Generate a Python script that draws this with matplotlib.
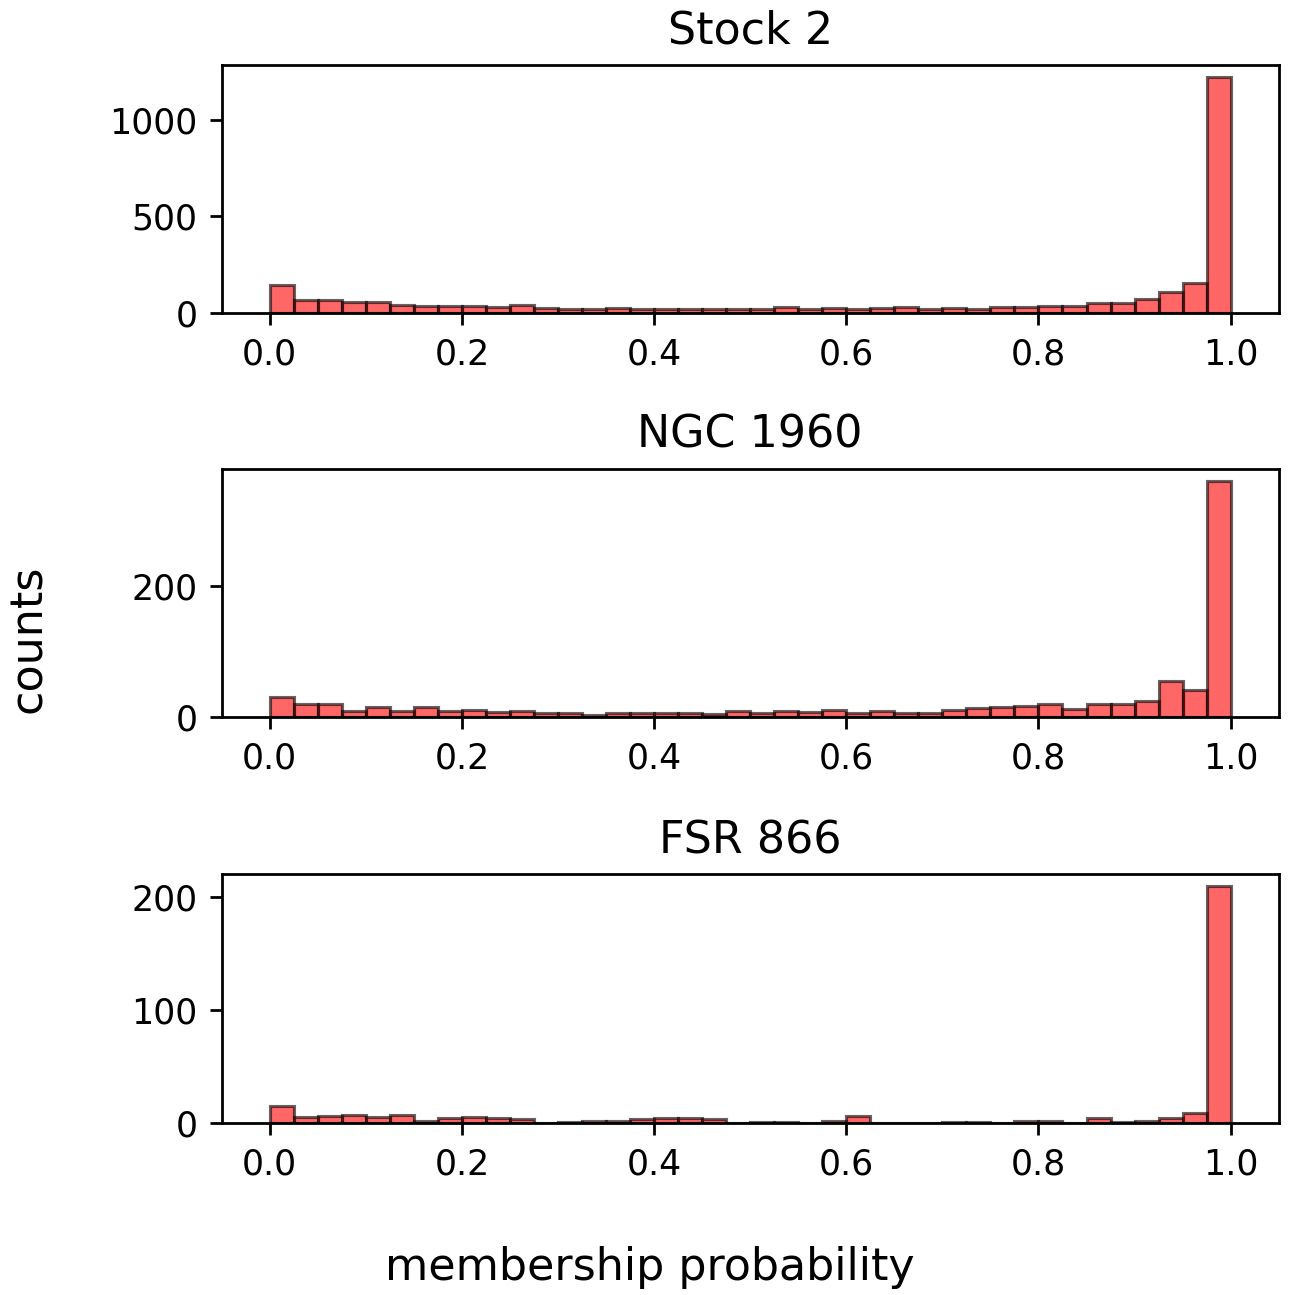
import numpy as np
import matplotlib
matplotlib.use("Agg")
import matplotlib.pyplot as plt

# 40 bins of width 0.025 on [0, 1]
bin_edges = np.linspace(0.0, 1.0, 41)

titles = ["Stock 2", "NGC 1960", "FSR 866"]

stock2_counts = [146, 69, 67, 60, 60, 45, 40, 40, 40, 34,
                 41, 29, 24, 24, 29, 21, 24, 24, 24, 24,
                 24, 31, 22, 27, 22, 29, 34, 22, 29, 22,
                 33, 33, 40, 36, 55, 55, 76, 108, 158, 1222]

ngc1960_counts = [31, 20, 20, 9, 16, 9, 16, 9, 12, 8,
                  9, 6, 6, 4, 6, 7, 6, 6, 5, 9,
                  6, 10, 8, 11, 7, 10, 7, 6, 12, 14,
                  16, 18, 21, 13, 20, 20, 25, 55, 42, 359]

fsr866_counts = [15, 5, 6, 7, 5, 7, 2, 4, 5, 4,
                 3, 0, 1, 2, 2, 3, 4, 4, 3, 0,
                 1, 1, 0, 2, 6, 0, 0, 0, 1, 1,
                 0, 2, 2, 0, 4, 1, 2, 4, 9, 210]

all_counts = [stock2_counts, ngc1960_counts, fsr866_counts]

fig = plt.figure(figsize=(5.156, 5.18), dpi=250)

# axes boxes [left, bottom, width, height] in figure fractions
boxes = [
    [0.172, 0.758, 0.820, 0.192],
    [0.172, 0.446, 0.820, 0.192],
    [0.172, 0.133, 0.820, 0.192],
]

centers = 0.5 * (bin_edges[:-1] + bin_edges[1:])

for box, title, counts in zip(boxes, titles, all_counts):
    ax = fig.add_axes(box)
    ax.hist(centers, bins=bin_edges, weights=counts,
            color="red", alpha=0.6, edgecolor="black", linewidth=0.9)
    ax.set_title(title, fontsize=12.8)
    ax.tick_params(labelsize=10)
    ax.set_xticks([0.0, 0.2, 0.4, 0.6, 0.8, 1.0])

fig.text(0.022, 0.507, "counts", rotation=90, fontsize=12.8,
         ha="center", va="center")
fig.text(0.504, 0.021, "membership probability", fontsize=12.8,
         ha="center", va="center")

fig.savefig("out.png", dpi=250)
